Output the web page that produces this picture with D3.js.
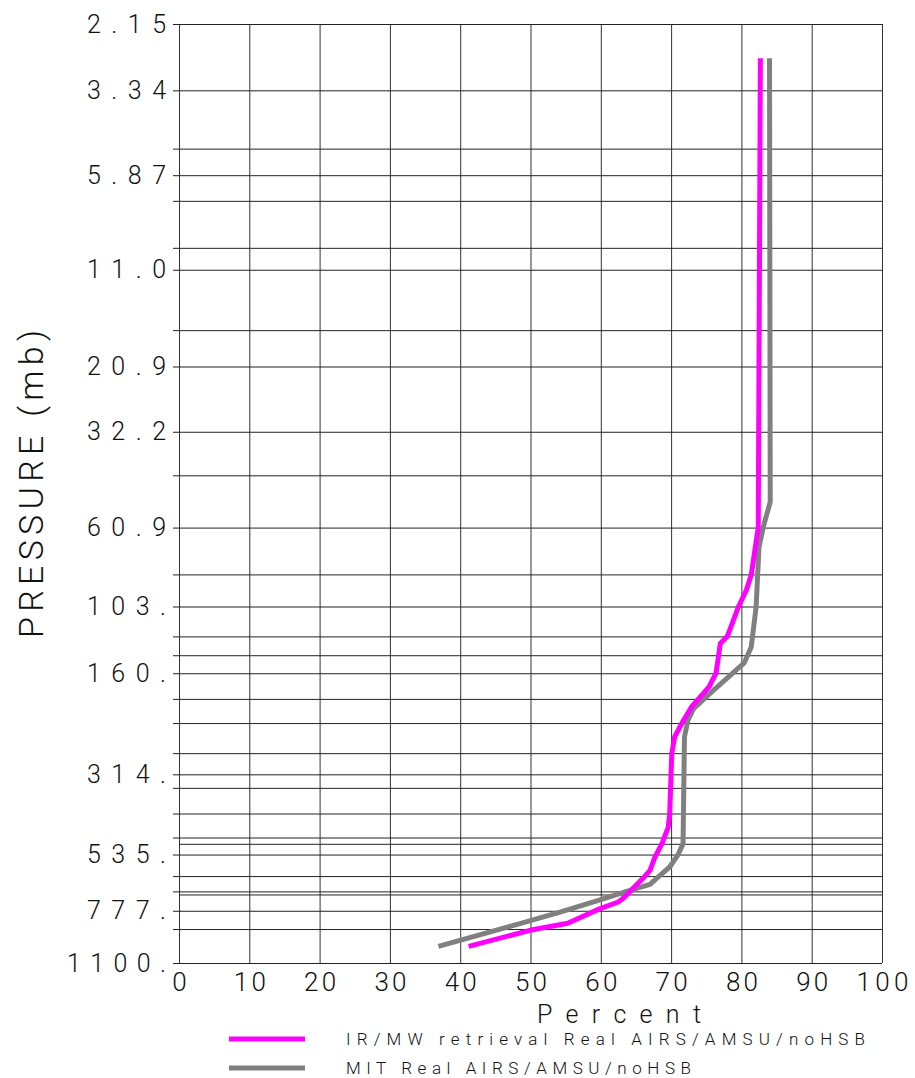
<!DOCTYPE html>
<html>
<head>
<meta charset="utf-8">
<script src="https://cdn.jsdelivr.net/npm/d3@7"></script>
<style>
html, body { margin: 0; padding: 0; background: #fff; }
svg { display: block; }
text { font-family: Roboto, "DejaVu Sans", sans-serif; font-weight: 300; fill: #111; }
</style>
</head>
<body>
<svg id="chart" width="915" height="1078"></svg>
<script>
// pressure levels drawn as horizontal grid lines (mb)
var gridLevels = [2.15, 3.34, 4.92, 5.87, 6.96, 9.51, 11.0, 16.43, 20.92, 32.27, 43.10, 60.99,
    83.23, 103.02, 125.65, 142.39, 160.50, 190.32, 223.44, 272.92, 314.14, 343.62, 407.47,
    477.96, 535.23, 617.51, 683.61, 777.53, 877.83, 1100];
// extra lines without a tick mark
var extraLevels = [500, 700];
var labelLevels = [2.15, 3.34, 5.87, 11.0, 20.92, 32.27, 60.99, 103.02, 160.50, 314.14, 535.23, 777.53, 1100];
var yTickLabels = ["2.15", "3.34", "5.87", "11.0", "20.9", "32.2", "60.9", "103.", "160.", "314.", "535.", "777.", "1100."];
var xTicks = [0, 10, 20, 30, 40, 50, 60, 70, 80, 90, 100];

// IR/MW retrieval Real AIRS/AMSU/noHSB
var pressureIR = [2.70, 60.9, 83.5, 92.5, 103, 125.6, 131.8, 160, 175.8, 200.8, 224.3, 245.1, 273,
    407.5, 445.8, 497.7, 544.2, 594.2, 626.7, 669.8, 709.6, 733.5, 766.5, 845.0, 885.3, 985.1];
var percentIR = [82.7, 82.4, 81.4, 80.7, 79.6, 78.0, 77.0, 76.4, 75.4, 72.9, 71.5, 70.5, 70.1,
    69.8, 69.6, 68.7, 67.7, 67.0, 66.0, 64.6, 63.4, 62.5, 59.9, 55.3, 49.9, 41.2];

// MIT Real AIRS/AMSU/noHSB
var pressureMIT = [2.70, 51.4, 60.9, 69.5, 103, 134.8, 149.9, 183.7, 203.0, 219.3, 245, 497.7, 535,
    581.3, 622.7, 652.3, 680.9, 723.1, 784.2, 846.8, 985];
var percentMIT = [84.0, 84.1, 83.1, 82.5, 82.1, 81.4, 80.4, 75.5, 73.2, 72.4, 71.9, 71.7, 71.0,
    69.8, 68.1, 67.0, 63.9, 59.9, 54.2, 48.5, 36.9];

var seriesNames = ["IR/MW retrieval Real AIRS/AMSU/noHSB", "MIT Real AIRS/AMSU/noHSB"];
var seriesColors = ["#ff00ff", "#808080"];

var plotLeft = 179, plotRight = 882, plotTop = 24, plotBottom = 963;

var svg = d3.select("#chart");
svg.append("rect").attr("width", 915).attr("height", 1078).attr("fill", "#fff");

var x = d3.scaleLinear().domain([0, 100]).range([plotLeft, plotRight]);
var y = d3.scaleLog().domain([2.15, 1100]).range([plotTop, plotBottom]);

// vertical grid
var xGrid = svg.append("g")
    .attr("transform", "translate(0," + plotBottom + ")")
    .call(d3.axisBottom(x).tickValues(xTicks).tickSize(-(plotBottom - plotTop)).tickSizeOuter(0).tickFormat(""));
xGrid.select(".domain").remove();
xGrid.selectAll("line").attr("stroke", "#333").attr("stroke-width", 1);

// horizontal grid, with short ticks to the left
var yGrid = svg.append("g")
    .attr("transform", "translate(" + plotLeft + ",0)")
    .call(d3.axisLeft(y).tickValues(gridLevels).tickSize(-(plotRight - plotLeft)).tickSizeOuter(0).tickFormat(""));
yGrid.select(".domain").remove();
yGrid.selectAll("line").attr("x1", -6).attr("stroke", "#222").attr("stroke-width", 1);

svg.append("g").selectAll("line")
    .data(extraLevels)
    .join("line")
    .attr("x1", plotLeft).attr("x2", plotRight)
    .attr("y1", function (d) { return y(d); })
    .attr("y2", function (d) { return y(d); })
    .attr("stroke", "#222").attr("stroke-width", 1);

// y tick labels
var yAxis = svg.append("g")
    .attr("transform", "translate(" + plotLeft + ",0)")
    .call(d3.axisLeft(y).tickValues(labelLevels).tickSize(0).tickPadding(13)
        .tickFormat(function (d, i) { return yTickLabels[i]; }));
yAxis.select(".domain").remove();
yAxis.attr("font-size", null).attr("font-family", null);
yAxis.selectAll("text")
    .attr("font-size", 25)
    .attr("fill", "#111")
    .attr("textLength", function () { return 20 * this.textContent.length - 1; })
    .attr("lengthAdjust", "spacing");

// x tick labels
var xAxis = svg.append("g")
    .attr("transform", "translate(0," + plotBottom + ")")
    .call(d3.axisBottom(x).tickValues(xTicks).tickSize(0).tickPadding(9.5));
xAxis.select(".domain").remove();
xAxis.attr("font-size", null).attr("font-family", null);
xAxis.selectAll("text")
    .attr("font-size", 26)
    .attr("fill", "#111")
    .each(function () {
        var n = this.textContent.length;
        if (n > 1) d3.select(this).attr("textLength", 20 * n - 8).attr("lengthAdjust", "spacing");
    });

// axis titles
svg.append("text")
    .attr("x", 537).attr("y", 1023)
    .attr("font-size", 25)
    .attr("textLength", 164).attr("lengthAdjust", "spacing")
    .text("Percent");

svg.append("text")
    .attr("transform", "translate(43,484) rotate(-90)")
    .attr("text-anchor", "middle")
    .attr("font-size", 34)
    .attr("textLength", 308).attr("lengthAdjust", "spacing")
    .text("PRESSURE (mb)");

// profiles
var line = d3.line()
    .x(function (d) { return x(d[1]); })
    .y(function (d) { return y(d[0]); });

var profiles = [
    d3.zip(pressureMIT, percentMIT),
    d3.zip(pressureIR, percentIR)
];
var profileColors = [seriesColors[1], seriesColors[0]];

svg.append("g").selectAll("path")
    .data(profiles)
    .join("path")
    .attr("d", line)
    .attr("fill", "none")
    .attr("stroke", function (d, i) { return profileColors[i]; })
    .attr("stroke-width", 5)
    .attr("stroke-linejoin", "round");

// legend
var legendY = [1039, 1068];
var legendLen = [519, 345];
var legend = svg.append("g").selectAll("g")
    .data(seriesNames)
    .join("g")
    .attr("transform", function (d, i) { return "translate(0," + legendY[i] + ")"; });

legend.append("line")
    .attr("x1", 229).attr("x2", 305)
    .attr("stroke", function (d, i) { return seriesColors[i]; })
    .attr("stroke-width", 5);

legend.append("text")
    .attr("x", 346).attr("y", 6)
    .attr("font-size", 17)
    .attr("textLength", function (d, i) { return legendLen[i]; })
    .attr("lengthAdjust", "spacing")
    .text(function (d) { return d; });
</script>
</body>
</html>
